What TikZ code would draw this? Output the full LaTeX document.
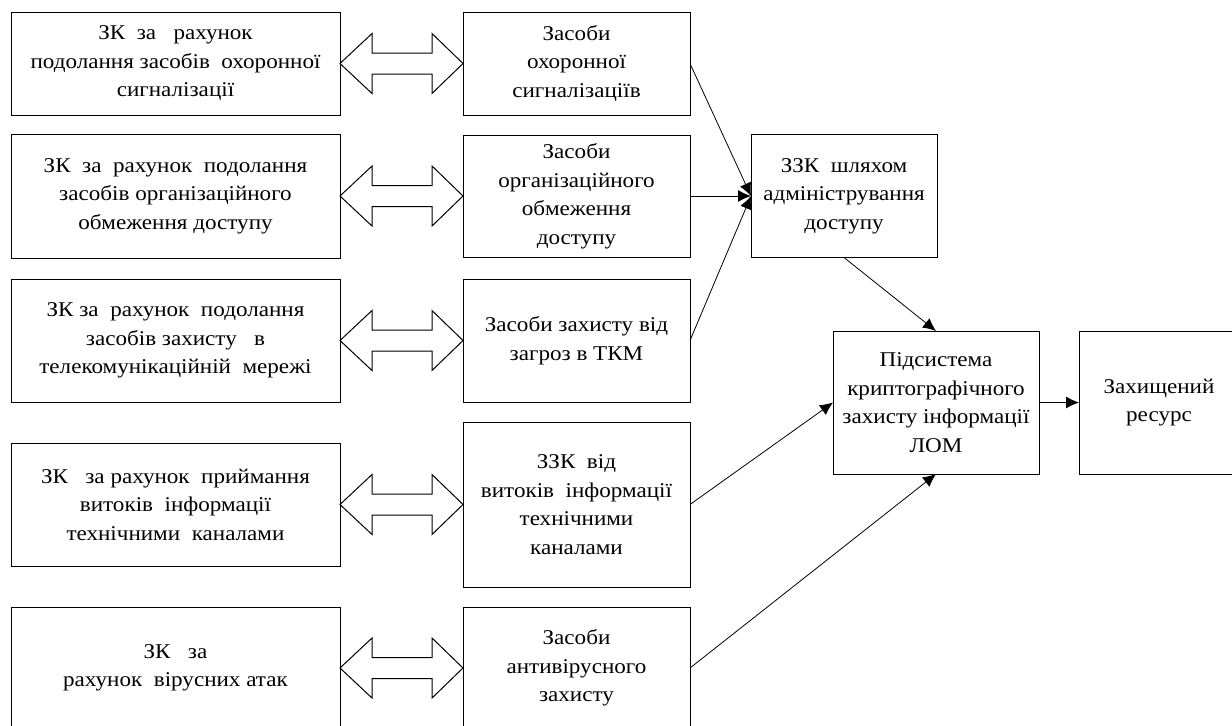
\documentclass[tikz,border=0pt]{standalone}
\usepackage{fontspec}
\setmainfont{Liberation Serif}[FakeStretch=1.1]
\usepackage{tikz}
\usetikzlibrary{arrows.meta,calc}
\tikzset{basic/.style={draw,fill=none,line width=0.5pt,outer sep=0pt,
                       text badly centered,align=center,
                       font=\fontsize{10.5}{14.25}\selectfont}}
\tikzset{fat/.style={draw,line width=0.5pt,fill=white,line join=miter}}

\begin{document}
\begin{tikzpicture}[x=0.5pt,y=-0.5pt,>={Latex[length=6.5pt,width=6pt]},
    % styles for clarity
    threat/.style ={basic, minimum width=164.5pt},
    means/.style  ={basic, minimum width=113.5pt},
    sys/.style    ={basic}
  ]
    \useasboundingbox (0,0) rectangle (1232,725);

    \node[threat,minimum height=51.5pt](l1) at (175.5,63.5)
      {ЗК\ \ за\ \ \ рахунок\\подолання засобів\ \ охоронної\\сигналізації};
    \node[threat,minimum height=62pt](l2) at (175.5,196)
      {ЗК\ \ за\ \ рахунок\ \ подолання\\засобів організаційного\\обмеження доступу};
    \node[threat,minimum height=61.5pt](l3) at (175.5,340.5)
      {ЗК за\ \ рахунок\ \ подолання\\засобів захисту\ \ \ в\\телекомунікаційній\ \ мережі};
    \node[threat,minimum height=61.5pt](l4) at (175.5,504.5)
      {ЗК\ \ \ за рахунок\ \ приймання\\витоків\ \ інформації\\технічними\ \ каналами};
    \node[threat,minimum height=61pt](l5) at (175.5,668)
      {ЗК\ \ \ за\\рахунок\ \ вірусних атак};

    \node[means,minimum height=51.5pt](m1) at (576.5,63.5)
      {Засоби\\охоронної\\сигналізаціїв};
    \node[means,minimum height=61pt](m2) at (576.5,196)
      {Засоби\\організаційного\\обмеження\\доступу};
    \node[means,minimum height=61.5pt](m3) at (576.5,340.5)
      {Засоби захисту від\\загроз в ТКМ};
    \node[means,minimum height=82.5pt](m4) at (576.5,504.5)
      {ЗЗК\ \ від\\витоків\ \ інформації\\технічними\\каналами};
    \node[means,minimum height=61pt](m5) at (576.5,668)
      {Засоби\\антивірусного\\захисту};

    \node[sys,minimum width=93pt,minimum height=61.5pt](adm) at (844,196)
      {ЗЗК\ \ шляхом\\адміністрування\\доступу};
    \node[sys,minimum width=103pt,minimum height=71.5pt](crypt) at (936,402.5)
      {Підсистема\\криптографічного\\захисту інформації\\ЛОМ};
    \node[sys,minimum width=80pt,minimum height=71.5pt](res) at (1159,402.5)
      {Захищений\\ресурс};

    % two-way block arrows
    \foreach \i in {1,...,5}
      \draw[fat] (l\i.east) -- ++(32,-30) -- ++(0,19.5)
        -- ($(m\i.west)+(-31,-10.5)$) -- ++(0,-19.5) -- (m\i.west)
        -- ++(-31,30) -- ++(0,-19.5) -- ($(l\i.east)+(32,10.5)$)
        -- ++(0,19.5) -- cycle;

    \draw[->] (m1.east) -- (adm.west);
    \draw[->] (m2.east) -- (adm.west);
    \draw[->] (m3.east) -- (adm.west);
    \draw[->] (adm.south) -- (crypt.north);
    \draw[->] (m4.east) -- (crypt.west);
    \draw[->] (m5.east) -- (crypt.south);
    \draw[->] (crypt.east) -- (res.west);
  \end{tikzpicture}
\end{document}
